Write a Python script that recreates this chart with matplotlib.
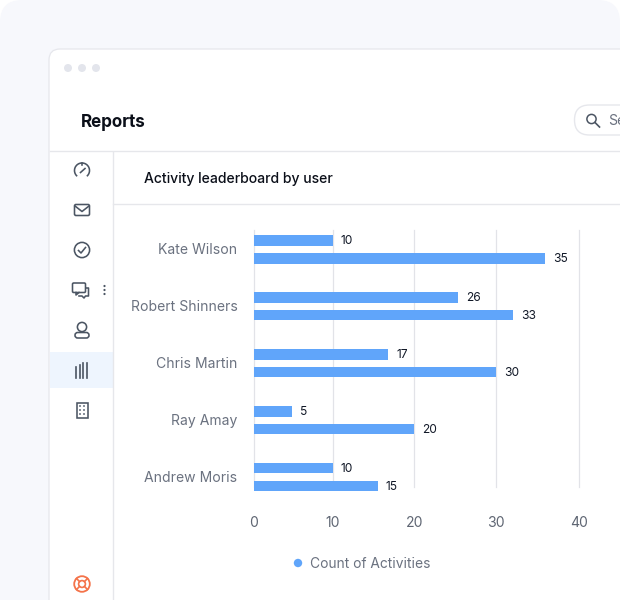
import numpy as np
import matplotlib
matplotlib.use('Agg')
import matplotlib.pyplot as plt
from matplotlib.patches import FancyBboxPatch, Circle, Rectangle, Arc
from matplotlib.transforms import ScaledTranslation

plt.rcParams['font.family'] = ['Inter', 'DejaVu Sans']

# Data
users = ['Kate Wilson', 'Robert Shinners', 'Chris Martin', 'Ray Amay', 'Andrew Moris']
printed_first = [10, 26, 17, 5, 10]
printed_second = [35, 33, 30, 20, 15]
# where the bars actually end on the axis (differs a bit from the printed numbers)
bar_first = [10, 25.3, 16.8, 4.8, 10]
bar_second = [35.9, 32, 30, 20, 15.5]
x_ticks = [0, 10, 20, 30, 40]
legend_label = 'Count of Activities'

BLUE = '#60a5fa'
LINE = '#e6e7eb'
ICON = '#4b5563'
PX = 0.72  # font px -> pt at dpi 100

fig = plt.figure(figsize=(6.2, 6), dpi=100, facecolor='white')

# whole picture as a pixel canvas for the app window around the chart
bg = fig.add_axes([0, 0, 1, 1])
bg.set_xlim(0, 620)
bg.set_ylim(600, 0)
bg.axis('off')

bg.add_patch(FancyBboxPatch((0, 0), 620, 660, boxstyle='round,pad=0,rounding_size=22',
                            fc='#f7f8fc', ec='none'))
bg.add_patch(FancyBboxPatch((49, 49), 640, 620, boxstyle='round,pad=0,rounding_size=11',
                            fc='white', ec='#e6e7ec', lw=0.9))
for cx in [68, 82, 96]:
    bg.add_patch(Circle((cx, 68), 4, fc='#e3e5ec', ec='none'))

bg.plot([49.5, 620], [151, 151], color=LINE, lw=1)
bg.plot([113, 113], [152, 600], color=LINE, lw=1)
bg.plot([113, 620], [204, 204], color=LINE, lw=1)
bg.add_patch(Rectangle((50, 352), 63, 36, fc='#eef5fe', ec='none'))

bg.text(81, 122.5, 'Reports', fontsize=17 * PX, fontweight='bold', color='#0b0f19',
        va='center', ha='left')
bg.text(144, 179, 'Activity leaderboard by user', fontsize=14 * PX, fontweight='medium',
        color='#0b0f19', va='center', ha='left')

# search box
bg.add_patch(FancyBboxPatch((574.5, 105), 100, 30, boxstyle='round,pad=0,rounding_size=15',
                            fc='white', ec='#e6e7ec', lw=1))
bg.add_patch(Circle((591.5, 119), 4.6, fc='none', ec=ICON, lw=1.1))
bg.plot([595, 599.5], [122.5, 127], color=ICON, lw=1.2)
bg.text(608, 121, 'Se', fontsize=14 * PX, color='#6b7280', va='center', ha='left')

# sidebar icons
lw = 1.15
bg.add_patch(Arc((82, 170.5), 15, 15, theta1=130, theta2=50, ec=ICON, lw=lw))
bg.plot([80.5, 85], [172.5, 168.5], color=ICON, lw=lw)
bg.plot([82, 82], [163, 164.5], color=ICON, lw=lw)

bg.add_patch(FancyBboxPatch((74.5, 204.5), 15, 11, boxstyle='round,pad=0,rounding_size=1.5',
                            fc='none', ec=ICON, lw=lw))
bg.plot([75, 82, 89], [206, 211.5, 206], color=ICON, lw=lw)

bg.add_patch(Circle((82, 250), 7.6, fc='none', ec=ICON, lw=lw))
bg.plot([78.5, 81, 85.5], [250.5, 253, 247.5], color=ICON, lw=lw)

bg.add_patch(FancyBboxPatch((72.5, 283), 13, 9.5, boxstyle='round,pad=0,rounding_size=1.2',
                            fc='white', ec=ICON, lw=lw, zorder=3))
bg.plot([76, 76, 79], [292.5, 295, 292.5], color=ICON, lw=lw, zorder=3)
bg.plot([86, 88.5, 88.5, 85.5, 84, 82, 79], [288, 288, 296, 296, 298, 296, 296],
        color=ICON, lw=lw, zorder=2)
for cy in [286, 290, 294]:
    bg.add_patch(Circle((104.5, cy), 1.1, fc=ICON, ec='none'))

bg.add_patch(Circle((82, 327), 4.6, fc='none', ec=ICON, lw=lw))
bg.add_patch(FancyBboxPatch((75, 332.5), 14, 5.5, boxstyle='round,pad=0,rounding_size=2.7',
                            fc='none', ec=ICON, lw=lw))

for bx, top in zip([76, 79.7, 83.4, 87], [367, 365, 363, 362.5]):
    bg.plot([bx, bx], [378, top], color=ICON, lw=1.2)

bg.add_patch(Rectangle((76.5, 402.5), 11, 15, fc='none', ec=ICON, lw=lw))
for wy in [406, 410, 414]:
    for wx in [80, 84]:
        bg.add_patch(Rectangle((wx - 0.7, wy - 0.7), 1.4, 1.4, fc='#8a919c', ec='none'))

bg.add_patch(Circle((82, 584), 7.8, fc='none', ec='#f4734a', lw=1.3))
bg.add_patch(Circle((82, 584), 3.4, fc='none', ec='#f4734a', lw=1.2))
for a in np.deg2rad([45, 135, 225, 315]):
    bg.plot([82 + 3.4 * np.cos(a), 82 + 7.8 * np.cos(a)],
            [584 + 3.4 * np.sin(a), 584 + 7.8 * np.sin(a)], color='#f4734a', lw=1.2)

# legend
bg.add_patch(Circle((298, 563), 4.2, fc=BLUE, ec='none'))
bg.text(310, 564, legend_label, fontsize=13.8 * PX, color='#6b7280', va='center', ha='left')

# chart, y units: one group = 57 px, x ticks sit slightly unevenly in the picture
L, R, T, B = 253.5, 579.5, 229.5, 487
ax = fig.add_axes([L / 620, 1 - B / 600, (R - L) / 620, (B - T) / 600])
ax.patch.set_alpha(0)
tick_frac = [0, 79.3 / 326, 160.8 / 326, 242.8 / 326, 1]
ax.set_xscale('function', functions=(lambda v: np.interp(v, x_ticks, tick_frac),
                                     lambda f: np.interp(f, tick_frac, x_ticks)))
ax.set_xlim(0, 40)
ax.set_ylim(4.175, -0.35)

y = np.arange(len(users))
off = 0.155
ax.barh(y - off, bar_first, height=0.185, color=BLUE, zorder=3, clip_on=False)
ax.barh(y + off, bar_second, height=0.185, color=BLUE, zorder=3, clip_on=False)

for i in range(len(users)):
    ax.annotate(str(printed_first[i]), (bar_first[i], y[i] - off), xytext=(5.8, -0.5),
                textcoords='offset points', fontsize=12 * PX, color='#111827',
                va='center', ha='left', annotation_clip=False)
    ax.annotate(str(printed_second[i]), (bar_second[i], y[i] + off), xytext=(5.8, -0.6),
                textcoords='offset points', fontsize=12 * PX, color='#111827',
                va='center', ha='left', annotation_clip=False)

ax.set_xticks(x_ticks)
ax.set_xticklabels([str(t) for t in x_ticks], fontsize=14 * PX, color='#5f6673')
ax.set_yticks(y)
ax.set_yticklabels(users, fontsize=14 * PX, color='#6b7280')
ax.tick_params(axis='both', length=0)
ax.tick_params(axis='x', pad=21)
ax.tick_params(axis='y', pad=11.5)
# names sit a little higher than the group centre
shift = ScaledTranslation(0, 0.8 / 100, fig.dpi_scale_trans)
for lab in ax.get_yticklabels():
    lab.set_transform(lab.get_transform() + shift)
ax.grid(axis='x', color='#e2e3e8', lw=0.9, zorder=0, clip_on=False)
ax.set_axisbelow(True)
for s in ax.spines.values():
    s.set_visible(False)

fig.savefig('out.png', dpi=100, facecolor='white')
